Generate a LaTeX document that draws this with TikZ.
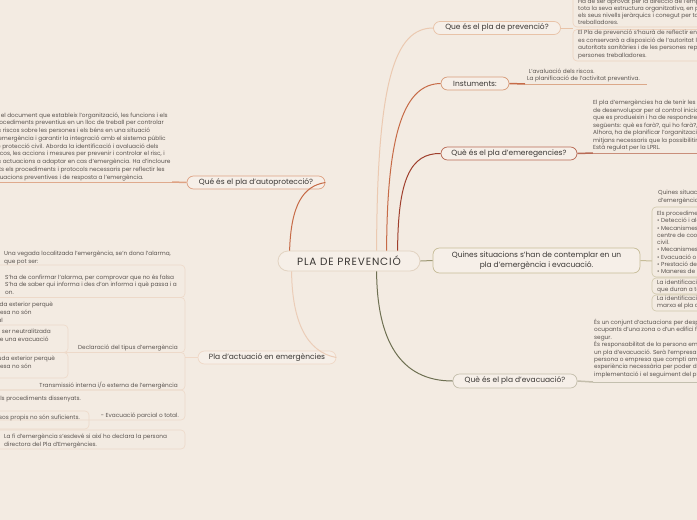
\documentclass[tikz,border=0pt]{standalone}
\usepackage{fontspec}
\setmainfont{Poppins}
\newfontfamily\rootfont{Poppins}[LetterSpace=8]
\usetikzlibrary{positioning}
\definecolor{mapbg}{HTML}{F3EBE2}
\definecolor{boxfill}{HTML}{F6EFE8}
\definecolor{inktext}{HTML}{3B3835}
\definecolor{greytext}{HTML}{5A5450}
\definecolor{rootline}{HTML}{E2D3C2}
\definecolor{prevline}{HTML}{E8C3A8}
\definecolor{prevlink}{HTML}{EBC9B1}
\definecolor{prevframe}{HTML}{EDD2BE}
\definecolor{instline}{HTML}{D79C7A}
\definecolor{instlink}{HTML}{C66B47}
\definecolor{instrule}{HTML}{DBA889}
\definecolor{emerline}{HTML}{B86A55}
\definecolor{emerlink}{HTML}{9F3F2D}
\definecolor{emerrule}{HTML}{C98E7A}
\definecolor{quinline}{HTML}{C6BC98}
\definecolor{quinlink}{HTML}{9C9873}
\definecolor{quinframe}{HTML}{CFC7AA}
\definecolor{evacline}{HTML}{C4BEAC}
\definecolor{evaclink}{HTML}{6E7052}
\definecolor{evacrule}{HTML}{C3BFAE}
\definecolor{autoline}{HTML}{DEA283}
\definecolor{autolink}{HTML}{C66B47}
\definecolor{autorule}{HTML}{DFAA8D}
\definecolor{actuline}{HTML}{EFD8C7}
\definecolor{actulink}{HTML}{EBCDB8}
\definecolor{actuframe}{HTML}{EDD9C9}

\begin{document}
\begin{tikzpicture}[x=1pt, y=-1pt,
  root/.style={draw=rootline, fill=boxfill, rounded corners=10pt, line width=0.8pt,
               minimum width=142pt, minimum height=20pt, inner sep=0pt,
               font=\rootfont\fontsize{10.5}{12}\selectfont, text=inktext},
  topic/.style={draw=#1, fill=boxfill, rounded corners=6.5pt, line width=0.7pt,
                minimum height=13pt, inner sep=0pt, align=center,
                font=\fontsize{7.5}{9.6}\selectfont, text=inktext},
  note/.style={font=\fontsize{5.8}{#1}\selectfont, text=greytext, align=left,
               inner sep=0pt, anchor=base west},
  note/.default=7.4,
  tail/.style={font=\fontsize{5.8}{7.4}\selectfont, text=greytext, inner sep=0pt, anchor=base east},
  link/.style={draw=#1, line width=1pt},
  stub/.style={draw=#1, line width=1.5pt},
  rule/.style={draw=#1, line width=0.6pt},
  frame/.style={draw=#1, line width=0.6pt, rounded corners=4pt}
]
\useasboundingbox (0,0) rectangle (697,520);
\fill[mapbg] (0,0) rectangle (697,520);
\clip (0,0) rectangle (697,520);

% central topic
\node[root] (root) at (349,261) {PLA DE PREVENCIÓ};

% right-hand topics
\node[topic=prevline, minimum width=127pt] (prev) at (497,28) {Que és el pla de prevenció?};
\node[topic=instline, minimum width=68pt] (inst) at (475,83.5) {Instuments:};
\node[topic=emerline, minimum width=136pt] (emer) at (509,153.5) {Què és el pla d'emeregencies?};
\node[topic=quinline, minimum width=207pt, minimum height=25pt] (quin) at (536.5,260.5)
  {Quines situacions s'han de contemplar en un\\pla d'emergència i evacuació.};
\node[topic=evacline, minimum width=124pt, minimum height=14pt] (evac) at (515,381) {Què és el pla d'evacuació?};

% left-hand topics
\node[topic=autoline, minimum width=138pt] (auto) at (256,182.5) {Qué és el pla d'autoprotecció?};
\node[topic=actuline, minimum width=138pt] (actu) at (267,357.5) {Pla d'actuació en emergències};

% branches from the centre
\draw[link=prevlink] ([xshift=99pt]root.north west) .. controls (377,80) and (395,28) .. (prev.west);
\draw[link=instlink] ([xshift=109pt]root.north west) .. controls (387,130) and (405,84) .. (inst.west);
\draw[link=emerlink] ([xshift=120pt]root.north west) .. controls (398,180) and (410,153) .. (emer.west);
\draw[link=quinlink] (root.east) -- (quin.west);
\draw[link=evaclink] ([xshift=99pt]root.south west) .. controls (377,340) and (400,381) .. (evac.west);
\draw[link=autolink] ([xshift=12pt]root.north west) .. controls (291,205) and (303,186) .. (auto.east);
\draw[link=actulink] ([xshift=14pt]root.south west) .. controls (292,320) and (306,352) .. (actu.east);

% que es el pla de prevencio
\coordinate (prevjoin) at (573,28);
\draw[link=prevline] (prev.east) -- (prevjoin);
\draw[frame=prevframe] (573,-20) rectangle (730,27);
\draw[frame=prevframe] (573,29.5) rectangle (730,61);
\node[note=7.1] (preva) at (578,24.5) {Ha de ser aprovat per la direcció de l'empresa, assumit per\\
  tota la seva estructura organitzativa, en particular per tots\\
  els seus nivells jeràrquics i conegut per totes les persones\\
  treballadores.};
\node[note=7.5] (prevb) at (578,57.3) {El Pla de prevenció s'haurà de reflectir en un document que\\
  es conservarà a disposició de l'autoritat laboral, de les\\
  autoritats sanitàries i de les persones representants de les\\
  persones treballadores.};

% instruments
\coordinate (instmid) at (525,84);
\coordinate (instend) at (647,84);
\draw[stub=instlink] (inst.east) -- (instmid);
\draw[rule=instrule] (instmid) -- (instend);
\node[note=7.3] (insttxt) at (527,80.5) {\ L'avaluació dels riscos.\\La planificació de l'activitat preventiva.};

% pla d'emergencies
\coordinate (emermid) at (593,153);
\coordinate (emerend) at (700,153);
\draw[stub=emerline] (emer.east) -- (emermid);
\draw[rule=emerrule] (emermid) -- (emerend);
\node[note=7.5] (emertxt) at (593,149.5) {El pla d'emergències ha de tenir les actuacions que s'han\\
  de desenvolupar per al control inicial de les emergències\\
  que es produeixin i ha de respondre a les preguntes\\
  següents: què es farà?, qui ho farà?, quan?, on i com?\\
  Alhora, ha de planificar l'organització humana amb els\\
  mitjans necessaris que la possibilitin.\\
  Està regulat per la LPRL.};

% situacions a contemplar
\coordinate (quinjoin) at (652,261);
\draw[link=quinline] (quin.east) -- (quinjoin);
\draw[frame=quinframe] (652,207) rectangle (730,277);
\draw[frame=quinframe] (652,278) rectangle (730,294);
\draw[frame=quinframe] (652,295) rectangle (730,311);
\node[note=7.5] (quina) at (658,202) {Quines situacions poden activar el pla\\d'emergència i evacuació?};
\node[note=7.25] (quinb) at (657,273.5) {Els procediments d'actuació han de preveure:\\
  • Detecció i alerta.\\
  • Mecanismes d'alarma i comunicació amb el\\
  centre de coordinació d'emergències de protecció\\
  civil.\\
  • Mecanismes de resposta davant l'emergència.\\
  • Evacuació o confinament.\\
  • Prestació de les primeres ajudes.\\
  • Maneres de recepció de les ajudes externes.};
\node[note=7] (quinc) at (657,291.5) {La identificació de les persones responsables\\que duran a terme els procediments.};
\node[note=7] (quind) at (657,307.5) {La identificació i funcions de la persona que posarà en\\marxa el pla d'actuació.};

% pla d'evacuacio
\coordinate (evacmid) at (593,382);
\coordinate (evacend) at (700,382);
\draw[stub=evacline] (evac.east) -- (evacmid);
\draw[rule=evacrule] (evacmid) -- (evacend);
\node[note=7.4] (evactxt) at (594,376.3) {És un conjunt d'actuacions per desplaçar ordenadament els\\
  ocupants d'una zona o d'un edifici fins a un lloc\\
  segur.\\
  És responsabilitat de la persona empresària disposar d'\\
  un pla d'evacuació. Serà l'empresari o l'empresària, o la\\
  persona o empresa que compti amb la formació i\\
  experiència necessària per poder dur a terme la\\
  implementació i el seguiment del pla.};

% pla d'autoproteccio
\coordinate (automid) at (172,182);
\coordinate (autoend) at (-5,182);
\draw[stub=autoline] (auto.west) -- (automid);
\draw[rule=autorule] (automid) -- (autoend);
\node[note=7.75] (autotxt) at (-7,179.2) {És el document que estableix l'organització, les funcions i els\\
  procediments preventius en un lloc de treball per controlar\\
  els riscos sobre les persones i els béns en una situació\\
  d'emergència i garantir la integració amb el sistema públic\\
  de protecció civil. Aborda la identificació i avaluació dels\\
  riscos, les accions i mesures per prevenir i controlar el risc, i\\
  les actuacions a adaptar en cas d'emergència. Ha d'incloure\\
  tots els procediments i protocols necessaris per reflectir les\\
  situacions preventives i de resposta a l'emergència.};

% pla d'actuacio en emergencies
\coordinate (actujoin) at (185,357.5);
\draw[link=actuline] (actu.west) -- (actujoin);
\draw[frame=actuframe] (-20,265) rectangle (185,297.5);
\draw[frame=actuframe] (-20,297.5) rectangle (185,352.5);
\draw[frame=actuframe] (-20,325) rectangle (68,352.5);
\draw[frame=actuframe] (-20,352.5) rectangle (185,390);
\draw[frame=actuframe] (-20,352.5) rectangle (68,378);
\draw[frame=actuframe] (-20,390) rectangle (185,420);
\draw[frame=actuframe] (-20,411) rectangle (89,429);
\draw[frame=actuframe] (-20,430) rectangle (185,449);
\node[note=7.5] (actua) at (4,263) {Una vegada localitzada l'emergència, se'n dona l'alarma,\\que pot ser:};
\node[note=7.7] (actub) at (5,294.4) {S'ha de confirmar l'alarma, per comprovar que no és falsa\\
  S'ha de saber qui informa i des d'on informa i què passa i a\\on.};
\node[note=7.8] (actuc) at (-80,322.1) {Emergència parcial: cal ajuda exterior perquè\\
  els mitjans propis de l'empresa no són\\suficients. Evacuació parcial};
\node[note=7.8] (actud) at (-73,341.3) {Conat d'emergència: pot ser neutralitzada\\amb mitjans propis, sense una evacuació};
\node[tail] (actue) at (178,349.5) {Declaració del tipus d'emergència};
\node[note=7.6] (actuf) at (-80,375.7) {Emergència general: cal ajuda exterior perquè\\
  els mitjans propis de l'empresa no són\\suficients. Evacuació total};
\node[tail] (actug) at (178,387.5) {Transmissió interna i/o externa de l'emergència};
\node[tail] (actuh) at (81,400) {Aplicació dels procediments dissenyats.};
\node[tail] (actui) at (80,419.5) {Quan els recursos propis no són suficients.};
\node[tail] (actuj) at (179,417.5) {- Evacuació parcial o total.};
\node[note=7.7] (actuk) at (4,446.2) {La fi d'emergència s'esdevé si així ho declara la persona\\directora del Pla d'Emergències.};
\end{tikzpicture}
\end{document}
